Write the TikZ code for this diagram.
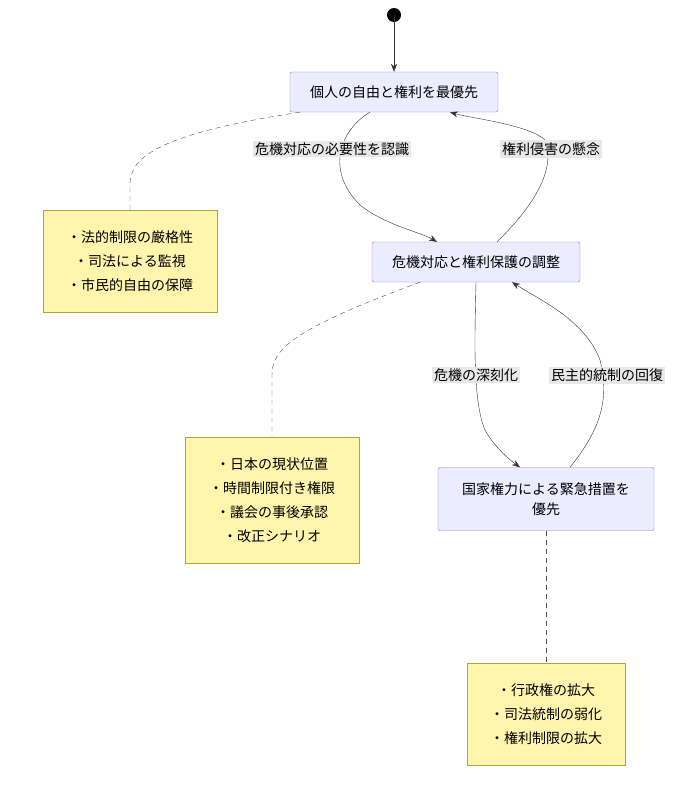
\documentclass[tikz,border=0pt]{standalone}
\usepackage{fontspec}
\setmainfont{Noto Sans CJK JP}
\usetikzlibrary{arrows.meta}
\definecolor{boxfill}{HTML}{ECECFF}
\definecolor{boxline}{HTML}{9370DB}
\definecolor{notefill}{HTML}{FFF5AD}
\definecolor{noteline}{HTML}{AAAA33}
\definecolor{lblfill}{HTML}{E8E8E8}
\tikzset{
  state/.style={rectangle, draw=boxline, fill=boxfill, rounded corners=2pt, align=center, font=\fontsize{14}{20}\selectfont, inner sep=0pt},
  note/.style={rectangle, draw=noteline, fill=notefill, align=center, font=\fontsize{14}{24}\selectfont, inner sep=0pt},
  line/.style={draw=black!80, -{Stealth[length=8pt,width=6pt]}},
  dashline/.style={draw=black!70, dashed, dash pattern=on 5pt off 4pt},
  lbl/.style={fill=lblfill, font=\fontsize{14}{16}\selectfont, inner sep=2pt}
}
\begin{document}
\begin{tikzpicture}[x=1pt, y=-1pt]
  \useasboundingbox (0,0) rectangle (680,798);
  % Place nodes
  \fill (394,15) circle (7) coordinate (start);
  \coordinate (start) at (394,15);
  \node [state, minimum width=208, minimum height=40] (indiv) at (394,92) {個人の自由と権利を最優先};
  \node [state, minimum width=208, minimum height=40] (adjust) at (476,262) {危機対応と権利保護の調整};
  \node [state, minimum width=216, minimum height=63] (state) at (546,499) {国家権力による緊急措置を\\優先};
  \node [note, minimum width=174, minimum height=102] (noteA) at (130,261) {・法的制限の厳格性\\・司法による監視\\・市民的自由の保障};
  \node [note, minimum width=174, minimum height=126] (noteB) at (272,500) {・日本の現状位置\\・時間制限付き権限\\・議会の事後承認\\・改正シナリオ};
  \node [note, minimum width=158, minimum height=102] (noteC) at (546,714) {・行政権の拡大\\・司法統制の弱化\\・権利制限の拡大};
  % Draw edges
  \path [line] (start) -- (indiv.north);
  \path [line] ([xshift=-24]indiv.south) .. controls (340,130) and (325,170) .. (360,205) .. controls (385,225) and (420,232) .. ([xshift=-39]adjust.north);
  \path [line] ([xshift=21]adjust.north) .. controls (540,200) and (555,165) .. (545,140) .. controls (530,125) and (470,118) .. ([xshift=56]indiv.south);
  \path [line] (adjust.south) .. controls (475,330) and (472,400) .. (485,430) .. controls (495,448) and (510,460) .. ([xshift=-26]state.north);
  \path [line] ([xshift=24]state.north) .. controls (600,430) and (610,400) .. (600,360) .. controls (585,320) and (540,300) .. ([xshift=36]adjust.south);
  \node [lbl] (lblA) at (332,149) {危機対応の必要性を認識};
  \node [lbl] (lblB) at (551,149) {権利侵害の懸念};
  \node [lbl] (lblC) at (476,375) {危機の深刻化};
  \node [lbl] (lblD) at (607,375) {民主的統制の回復};
  \path [dashline] ([xshift=-94]indiv.south) .. controls (150,135) and (130,160) .. (130,185) -- (noteA.north);
  \path [dashline] ([xshift=-56]adjust.south) .. controls (290,330) and (272,350) .. (272,375) -- (noteB.north);
  \path [dashline] (state.south) -- (noteC.north);
\end{tikzpicture}
\end{document}
